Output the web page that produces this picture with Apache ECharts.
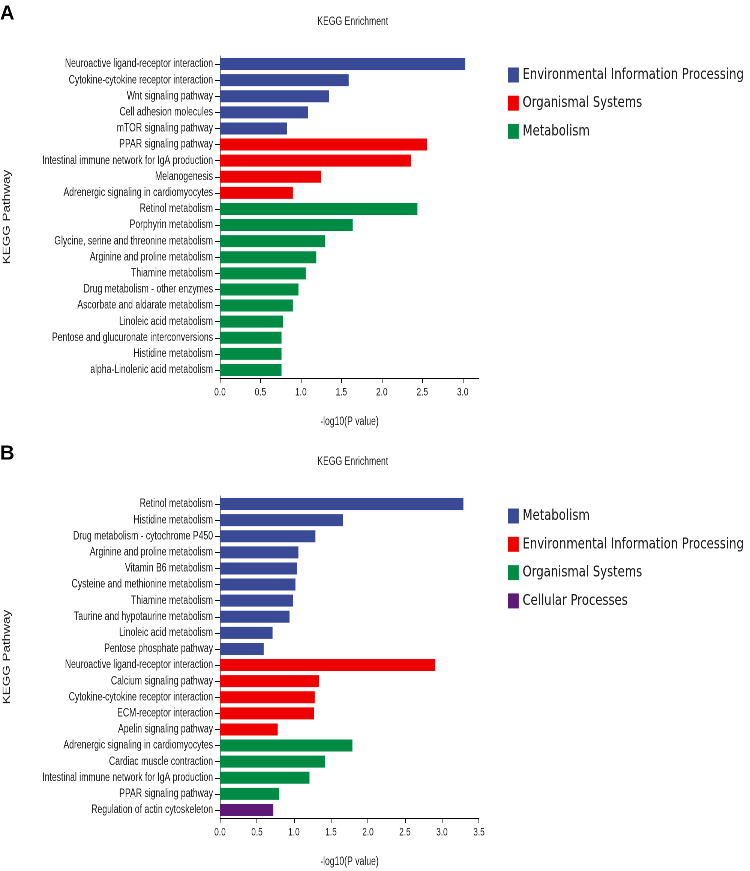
<!DOCTYPE html>
<html>
<head>
<meta charset="utf-8">
<script src="https://cdn.jsdelivr.net/npm/echarts@6/dist/echarts.min.js"></script>
<style>
  html, body { margin: 0; padding: 0; background: #fff; overflow: hidden; }
  /* the reference figure is horizontally condensed: draw wider and squeeze */
  .panel { position: absolute; left: 0; width: 1000px; transform: scaleX(0.75); transform-origin: 0 0; }
  #a { top: 0; height: 440px; }
  #b { top: 440px; height: 431px; }
</style>
</head>
<body>
<div id="a" class="panel"></div>
<div id="b" class="panel"></div>
<script>
// ---------- Panel A data ----------
const categoriesA = [
  'Neuroactive ligand-receptor interaction',
  'Cytokine-cytokine receptor interaction',
  'Wnt signaling pathway',
  'Cell adhesion molecules',
  'mTOR signaling pathway',
  'PPAR signaling pathway',
  'Intestinal immune network for IgA production',
  'Melanogenesis',
  'Adrenergic signaling in cardiomyocytes',
  'Retinol metabolism',
  'Porphyrin metabolism',
  'Glycine, serine and threonine metabolism',
  'Arginine and proline metabolism',
  'Thiamine metabolism',
  'Drug metabolism - other enzymes',
  'Ascorbate and aldarate metabolism',
  'Linoleic acid metabolism',
  'Pentose and glucuronate interconversions',
  'Histidine metabolism',
  'alpha-Linolenic acid metabolism'
];
const valuesA = [3.03, 1.59, 1.35, 1.09, 0.83, 2.56, 2.36, 1.25, 0.90,
                 2.44, 1.64, 1.30, 1.19, 1.06, 0.97, 0.90, 0.78, 0.76, 0.76, 0.76];
const groupOfA = ['Environmental Information Processing','Environmental Information Processing','Environmental Information Processing','Environmental Information Processing','Environmental Information Processing',
                  'Organismal Systems','Organismal Systems','Organismal Systems','Organismal Systems',
                  'Metabolism','Metabolism','Metabolism','Metabolism','Metabolism','Metabolism','Metabolism','Metabolism','Metabolism','Metabolism','Metabolism'];
const groupsA = ['Environmental Information Processing', 'Organismal Systems', 'Metabolism'];
const colorsA = ['#3A4A96', '#EE0000', '#008B45'];
const ticksA = { min: 0, max: 3.2, interval: 0.5 };

// ---------- Panel B data ----------
const categoriesB = [
  'Retinol metabolism',
  'Histidine metabolism',
  'Drug metabolism - cytochrome P450',
  'Arginine and proline metabolism',
  'Vitamin B6 metabolism',
  'Cysteine and methionine metabolism',
  'Thiamine metabolism',
  'Taurine and hypotaurine metabolism',
  'Linoleic acid metabolism',
  'Pentose phosphate pathway',
  'Neuroactive ligand-receptor interaction',
  'Calcium signaling pathway',
  'Cytokine-cytokine receptor interaction',
  'ECM-receptor interaction',
  'Apelin signaling pathway',
  'Adrenergic signaling in cardiomyocytes',
  'Cardiac muscle contraction',
  'Intestinal immune network for IgA production',
  'PPAR signaling pathway',
  'Regulation of actin cytoskeleton'
];
const valuesB = [3.29, 1.66, 1.29, 1.06, 1.04, 1.02, 0.99, 0.94, 0.71, 0.59,
                 2.91, 1.34, 1.28, 1.27, 0.78,
                 1.79, 1.42, 1.21, 0.80,
                 0.72];
const groupOfB = ['Metabolism','Metabolism','Metabolism','Metabolism','Metabolism','Metabolism','Metabolism','Metabolism','Metabolism','Metabolism',
                  'Environmental Information Processing','Environmental Information Processing','Environmental Information Processing','Environmental Information Processing','Environmental Information Processing',
                  'Organismal Systems','Organismal Systems','Organismal Systems','Organismal Systems',
                  'Cellular Processes'];
const groupsB = ['Metabolism', 'Environmental Information Processing', 'Organismal Systems', 'Cellular Processes'];
const colorsB = ['#3A4A96', '#EE0000', '#008B45', '#5C1A76'];
const ticksB = { min: 0, max: 3.5, interval: 0.5 };

const SANS = '"Liberation Sans", Arial, sans-serif';
const LEG = '"DejaVu Sans", sans-serif';
const SX = 0.75; // horizontal squeeze applied by CSS

function buildOption(letter, cats, vals, groupOf, groups, colors, ticks, legendTop, legendGap) {
  const series = groups.map((g, gi) => ({
    name: g,
    type: 'bar',
    barWidth: 12,
    barGap: '-100%',
    itemStyle: { color: colors[gi] },
    data: cats.map((c, i) => groupOf[i] === g ? vals[i] : '-')
  }));
  return {
    animation: false,
    graphic: [{
      type: 'text', x: 0, y: 4, scaleX: 1 / SX,
      style: { text: letter, font: 'bold 20px ' + SANS, fill: '#000', verticalAlign: 'top', align: 'left' }
    }],
    title: [
      { text: 'KEGG Enrichment', left: 418, top: 11,
        textStyle: { fontFamily: SANS, fontWeight: 'normal', fontSize: 11.5, color: '#1a1a1a' } }
    ],
    legend: {
      orient: 'vertical',
      left: 672,
      top: legendTop,
      itemWidth: 14.7,
      itemHeight: 15,
      itemGap: legendGap,
      icon: 'rect',
      selectedMode: false,
      textStyle: { fontFamily: LEG, fontSize: 15.5, color: '#1a1a1a', padding: [0, 0, 0, 0] },
      data: groups
    },
    grid: { left: 293.3, top: 56, width: 345.3, height: 322, outerBoundsMode: 'none' },
    xAxis: {
      type: 'value',
      min: ticks.min, max: ticks.max, interval: ticks.interval,
      name: '-log10(P value)',
      nameLocation: 'middle',
      nameGap: 38,
      nameTextStyle: { fontFamily: SANS, fontSize: 11.5, color: '#1a1a1a' },
      splitLine: { show: false },
      axisLine: { show: true, lineStyle: { color: '#000', width: 1 } },
      axisTick: { show: true, length: 5, lineStyle: { color: '#000' } },
      axisLabel: {
        margin: 9, showMaxLabel: Math.abs(ticks.max / ticks.interval - Math.round(ticks.max / ticks.interval)) < 1e-9,
        fontFamily: SANS, fontSize: 11, color: '#1a1a1a',
        formatter: v => v.toFixed(1)
      }
    },
    yAxis: {
      type: 'category',
      inverse: true,
      data: cats,
      name: 'KEGG Pathway',
      nameLocation: 'middle',
      nameGap: 277,
      nameRotate: 90,
      nameTextStyle: { fontFamily: SANS, fontSize: 13.5, color: '#1a1a1a' },
      axisLine: { show: true, lineStyle: { color: '#000', width: 1 } },
      axisTick: { show: true, alignWithLabel: true, length: 6.7, lineStyle: { color: '#000' } },
      axisLabel: { margin: 9.3, interval: 0, fontFamily: SANS, fontSize: 11.5, color: '#1a1a1a' }
    },
    series: series
  };
}

const chartA = echarts.init(document.getElementById('a'), null, { renderer: 'canvas', devicePixelRatio: 2 });
chartA.setOption(buildOption('A', categoriesA, valuesA, groupOfA, groupsA, colorsA, ticksA, 62, 12.2));
const chartB = echarts.init(document.getElementById('b'), null, { renderer: 'canvas', devicePixelRatio: 2 });
chartB.setOption(buildOption('B', categoriesB, valuesB, groupOfB, groupsB, colorsB, ticksB, 63, 12.3));
</script>
</body>
</html>
